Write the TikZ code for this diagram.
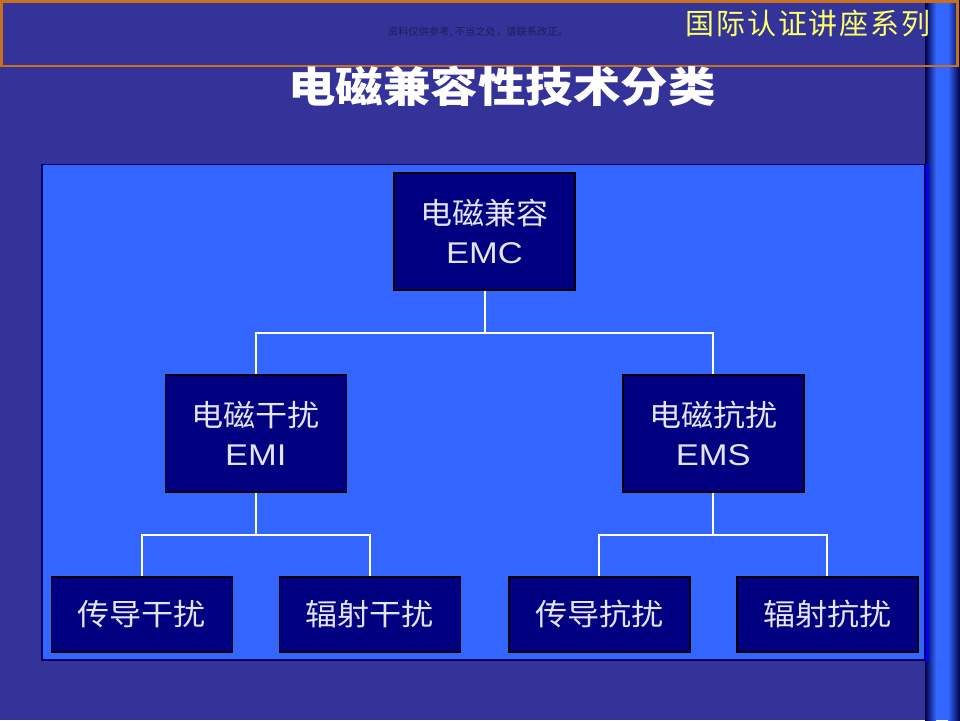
\documentclass[tikz,border=0pt]{standalone}
\usepackage{fontspec}
\setmainfont[FakeStretch=1.15]{Liberation Sans}
\newfontfamily\cjk[FakeStretch=1.07]{Noto Sans CJK SC}
\newfontfamily\cjknote{Noto Sans CJK SC}
\newfontfamily\cjktitle[FakeStretch=1.13]{Noto Sans CJK SC}
\newfontfamily\cjkseries[LetterSpace=6]{Noto Sans CJK SC}
\usetikzlibrary{calc}
\definecolor{slidebg}{HTML}{333399}
\definecolor{bannerline}{HTML}{C8701E}
\definecolor{panelblue}{HTML}{3366FF}
\definecolor{paneledge}{HTML}{000066}
\definecolor{panelshadow}{HTML}{0000FF}
\definecolor{boxfill}{HTML}{000080}
\definecolor{boxtext}{HTML}{E4E4F0}
\definecolor{seriesyellow}{HTML}{FFFF66}
\definecolor{notetext}{HTML}{1E1E5A}
\definecolor{bardark}{HTML}{000044}
\definecolor{barlight}{HTML}{3366FF}

\begin{document}
\begin{tikzpicture}[x=1pt, y=-1pt,
        edge from parent/.style = {draw=white, line width=2pt},
        edge from parent path = {(\tikzparentnode.south) |- ($(\tikzparentnode.south)!.5!(\tikzchildnode.north)$) -| (\tikzchildnode.north)},
        basic/.style = {draw=black, line width=1.5pt, fill=boxfill, text=boxtext, align=center,
            minimum width=181pt, inner sep=0pt, font=\fontsize{30}{39}\selectfont},
        root/.style = {basic, minimum height=117pt},
        branch/.style = {basic, minimum height=117pt},
        leaf/.style = {basic, minimum height=75pt},
        level 1/.style = {sibling distance=457.5pt, level distance=202pt},
        level 2/.style = {sibling distance=228pt, level distance=181pt},
        title/.style = {text=white, font=\cjktitle\bfseries\fontsize{42}{50}\selectfont},
        series/.style = {text=seriesyellow, font=\cjkseries\fontsize{29}{34}\selectfont},
        note/.style = {text=notetext, font=\cjknote\fontsize{10.3}{12}\selectfont}]
    \useasboundingbox (0,0) rectangle (960,720);
    \fill[slidebg] (0,0) rectangle (960,720);
    \fill[barlight] (925,0) rectangle (960,720);
    \shade[left color=bardark, right color=barlight] (925,0) rectangle (936,720);
    \shade[left color=barlight, right color=bardark] (948,0) rectangle (960,720);
    \draw[bannerline, line width=2.5pt] (1.25,1.25) rectangle (957.5,66);
    \filldraw[fill=panelblue, draw=paneledge, line width=1.2pt] (42,164.5) rectangle (925,660);
    \draw[panelshadow, line width=3pt] (927.5,164) -- (927.5,662);

    \node[note] (note) at (478,32) {资料仅供参考, 不当之处，请联系改正。};
    \node[series] (series) at (808,23) {国际认证讲座系列};
    \node[title] (title) at (502,86) {电磁兼容性技术分类};

    \node[root] (emc) at (484.5,231.5) {{\cjk 电磁兼容}\\EMC}
        child {node [branch] (emi) {{\cjk 电磁干扰}\\EMI}
            child {node [leaf] (emicond) {\cjk 传导干扰}}
            child {node [leaf] (emirad) {\cjk 辐射干扰}}
        }
        child {node [branch] (ems) {{\cjk 电磁抗扰}\\EMS}
            child {node [leaf] (emscond) {\cjk 传导抗扰}}
            child {node [leaf] (emsrad) {\cjk 辐射抗扰}}
        };
\end{tikzpicture}
\end{document}
